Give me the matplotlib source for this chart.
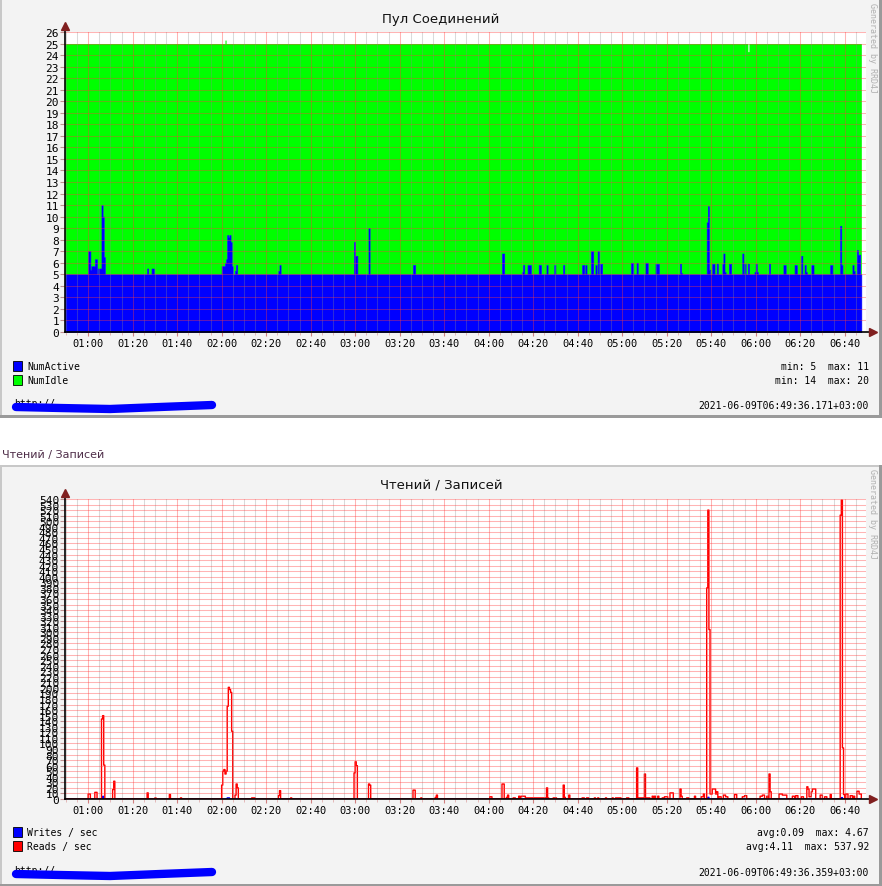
import numpy as np
import matplotlib
matplotlib.use('Agg')
import matplotlib.pyplot as plt
from matplotlib.patches import Rectangle
from matplotlib.lines import Line2D
from matplotlib.ticker import FixedLocator, MultipleLocator

W, H = 882, 887

# ---------------- data (time = minutes past midnight) ----------------
T_START, T_END, STEP = 49.5, 408.0, 0.5
X_MIN, X_MAX = 49.6, 409.6

tick_minutes = [60, 80, 100, 120, 140, 160, 180, 200, 220, 240, 260, 280,
                300, 320, 340, 360, 380, 400]
tick_labels = ['01:00', '01:20', '01:40', '02:00', '02:20', '02:40', '03:00',
               '03:20', '03:40', '04:00', '04:20', '04:40', '05:00', '05:20',
               '05:40', '06:00', '06:20', '06:40']

active_base = 5.0
pool_total = 25.0
# (start, end, NumActive)
active_segments = [
    (60.0, 61.0, 7.0), (61.0, 61.5, 5.4), (61.5, 63.0, 5.7), (63.0, 64.0, 6.3),
    (64.5, 66.0, 5.5), (66.0, 66.5, 11.0), (66.5, 67.0, 10.0), (67.0, 67.5, 6.5),
    (86.5, 87.0, 5.5), (88.5, 89.5, 5.5),
    (120.0, 121.5, 5.7), (121.5, 122.0, 6.0), (122.0, 122.5, 6.3), (122.5, 123.0, 8.4),
    (123.0, 123.5, 8.2), (123.5, 124.0, 8.4), (124.0, 124.5, 7.8), (124.5, 125.0, 5.7),
    (126.0, 126.5, 5.3), (126.5, 127.0, 5.8), (145.5, 146.0, 5.3), (146.0, 146.5, 5.8),
    (179.5, 180.0, 7.8), (180.0, 181.0, 6.6), (186.0, 186.5, 9.0), (206.0, 207.0, 5.8),
    (246.0, 247.0, 6.8), (255.0, 255.5, 5.2), (255.5, 256.0, 5.8), (257.5, 259.0, 5.8),
    (262.5, 263.5, 5.8), (266.0, 266.5, 5.8), (269.5, 270.0, 5.8), (273.5, 274.0, 5.8),
    (282.0, 283.0, 5.8), (283.5, 284.0, 5.8), (286.0, 287.0, 7.0), (288.0, 288.5, 5.8),
    (289.0, 289.5, 7.0), (290.0, 291.0, 5.9), (304.0, 305.0, 6.0), (306.5, 307.0, 6.0),
    (310.5, 311.0, 6.0), (311.0, 311.5, 6.0), (315.0, 316.0, 5.9), (316.0, 316.5, 5.9),
    (326.0, 326.5, 5.9), (326.5, 327.0, 5.1), (338.0, 338.5, 9.5), (338.5, 339.0, 10.9),
    (339.0, 339.5, 5.4), (340.5, 341.5, 5.9), (342.5, 343.0, 5.9), (345.0, 345.5, 5.9),
    (345.5, 346.0, 6.8), (346.0, 346.5, 5.2), (348.0, 349.0, 5.9), (354.0, 354.5, 6.8),
    (355.0, 355.5, 5.9), (356.5, 357.0, 5.9), (359.5, 360.0, 5.2), (360.0, 360.5, 5.9),
    (360.5, 361.0, 5.2), (366.0, 366.5, 5.9), (372.5, 373.5, 5.8), (377.5, 378.5, 5.8),
    (380.5, 381.0, 6.6), (382.0, 382.5, 5.8), (382.5, 383.0, 5.2), (385.0, 386.0, 5.8),
    (393.5, 394.5, 5.8), (398.0, 398.5, 9.2), (398.5, 399.0, 5.8), (403.5, 404.0, 5.8),
    (404.0, 404.5, 5.3), (405.5, 406.0, 7.1), (406.0, 407.0, 6.7),
]
# (start, end, NumActive + NumIdle) where it differs from pool_total
total_segments = [(121.5, 122.0, 25.3), (356.5, 357.0, 24.3)]

# (start, end, Reads / sec)
reads_segments = [
    (60.0, 61.0, 9), (63.0, 64.0, 12), (66.0, 66.5, 144), (66.5, 67.0, 150), (67.0, 67.5, 61),
    (71.0, 71.5, 17), (71.5, 72.0, 32), (86.5, 87.0, 11), (90.0, 90.5, 2), (96.5, 97.0, 8),
    (101.5, 102.0, 2), (120.0, 120.5, 25), (120.5, 121.0, 50), (121.0, 121.5, 53),
    (121.5, 122.0, 45), (122.0, 122.5, 50), (122.5, 123.0, 167), (123.0, 123.5, 201),
    (123.5, 124.0, 197), (124.0, 124.5, 192), (124.5, 125.0, 122), (126.0, 126.5, 7),
    (126.5, 127.0, 27), (127.0, 127.5, 20), (133.5, 135.0, 2), (145.5, 146.0, 6),
    (146.0, 146.5, 15), (151.0, 151.5, 2), (179.5, 180.0, 47), (180.0, 180.5, 67),
    (180.5, 181.0, 60), (186.0, 186.5, 27), (186.5, 187.0, 25), (206.0, 207.0, 16),
    (209.5, 210.0, 2), (216.0, 216.5, 3), (216.5, 217.0, 7), (240.5, 241.5, 4),
    (246.0, 247.0, 27), (248.0, 248.5, 3), (248.5, 249.0, 7), (251.0, 252.0, 2),
    (253.5, 254.0, 5), (254.5, 256.5, 5), (256.5, 266.0, 2), (266.0, 266.5, 20),
    (266.5, 267.0, 2), (269.0, 270.5, 2), (273.5, 274.0, 25), (274.0, 274.5, 3),
    (276.0, 276.5, 7), (282.0, 283.0, 2), (284.0, 285.0, 2), (287.5, 288.0, 2),
    (289.0, 289.5, 2), (292.5, 293.0, 2), (295.5, 296.0, 2), (297.0, 299.5, 2),
    (302.0, 303.0, 2), (306.5, 307.0, 56), (307.0, 310.0, 2), (310.0, 310.5, 45),
    (310.5, 312.5, 2), (313.5, 314.0, 5), (314.5, 315.0, 5), (316.0, 316.5, 5),
    (318.0, 319.0, 2), (319.0, 320.5, 4), (321.5, 323.0, 11), (326.0, 326.5, 18),
    (326.5, 327.0, 5), (329.0, 330.0, 2), (332.5, 333.0, 5), (335.5, 336.5, 4),
    (336.5, 337.0, 9), (338.0, 338.5, 380), (338.5, 339.0, 520), (339.0, 339.5, 305),
    (339.5, 340.5, 9), (340.5, 342.0, 18), (342.0, 342.5, 9), (342.5, 343.0, 13),
    (343.5, 344.5, 4), (345.5, 346.5, 7), (346.5, 347.5, 4), (350.5, 351.5, 8),
    (354.0, 355.0, 4), (355.0, 356.0, 6), (362.0, 363.0, 5), (363.0, 364.0, 7),
    (365.0, 365.5, 5), (366.0, 366.5, 45), (366.5, 367.0, 13), (370.5, 372.0, 9),
    (372.0, 374.0, 7), (376.5, 377.5, 5), (378.0, 379.0, 6), (380.5, 381.5, 4),
    (383.0, 383.5, 22), (383.5, 384.0, 18), (384.0, 385.0, 4), (385.0, 385.5, 13),
    (385.5, 387.0, 18), (389.0, 390.0, 7), (391.0, 392.0, 4), (393.5, 394.0, 8),
    (398.0, 398.5, 511), (398.5, 399.0, 537.92), (399.0, 399.5, 92), (399.5, 400.0, 8),
    (400.5, 401.5, 9), (402.5, 403.5, 6), (404.0, 404.5, 5), (405.5, 406.5, 14),
    (406.5, 407.5, 9),
]
# (start, end, Writes / sec)
writes_segments = [(66.5, 67.0, 4.67), (122.5, 123.5, 2.0), (338.5, 339.0, 3.0),
                   (398.5, 399.0, 2.5)]

top_title = 'Пул Соединений'
bot_title = 'Чтений / Записей'
top_legend = [('NumActive', '#0000ff', 'min: 5  max: 11'),
              ('NumIdle', '#00ff00', 'min: 14  max: 20')]
bot_legend = [('Writes / sec', '#0000ff', 'avg:0.09  max: 4.67'),
              ('Reads / sec', '#ff0000', 'avg:4.11  max: 537.92')]
top_stamp = '2021-06-09T06:49:36.171+03:00'
bot_stamp = '2021-06-09T06:49:36.359+03:00'


def build(segments, base):
    t = np.arange(T_START, T_END, STEP)
    v = np.full(t.size, float(base))
    for a, b, val in segments:
        v[(t >= a - 1e-6) & (t < b - 1e-6)] = val
    return t, v


t, active = build(active_segments, active_base)
_, total = build(total_segments, pool_total)
idle = total - active
_, reads = build(reads_segments, 0.0)
_, writes = build(writes_segments, 0.0)

# ---------------- style ----------------
BACK = '#f3f3f3'
SHADEA = '#c8c8c8'
SHADEB = '#9a9a9a'
ARROW = '#801f1f'
MONO = 'DejaVu Sans Mono'

fig = plt.figure(figsize=(W / 100, H / 100), dpi=100, facecolor='white')


def fx(x):
    return x / W


def fy(y):
    return 1 - y / H


def rect(x0, y0, x1, y1, color):
    fig.patches.append(Rectangle((fx(x0), fy(y1)), fx(x1) - fx(x0), fy(y0) - fy(y1),
                                 transform=fig.transFigure, facecolor=color,
                                 edgecolor='none', zorder=-5))


# panel backgrounds and borders
rect(0, 0, W, 419, BACK)
rect(0, 0, 2, 419, SHADEA)
rect(W - 3, 0, W, 419, SHADEB)
rect(0, 416, W, 419, SHADEB)
rect(0, 466, W, H, BACK)
rect(0, 466, W, 468, SHADEA)
rect(0, 466, 2, H, SHADEA)
rect(W - 3, 466, W, H, SHADEB)
rect(0, H - 2, W, H, SHADEB)

fig.text(fx(2), fy(455), bot_title, fontsize=8, color='#4e2d48',
         ha='left', va='center', family='DejaVu Sans')


def setup_axes(top_px, bottom_px, ymax, ystep):
    ax = fig.add_axes([fx(65), fy(bottom_px), fx(866) - fx(65), fy(top_px) - fy(bottom_px)])
    ax.set_facecolor('white')
    ax.set_xlim(X_MIN, X_MAX)
    ax.set_ylim(0, ymax)
    ax.xaxis.set_major_locator(FixedLocator(tick_minutes))
    ax.set_xticklabels(tick_labels)
    ax.xaxis.set_minor_locator(MultipleLocator(5))
    ax.yaxis.set_major_locator(MultipleLocator(ystep))
    ax.set_axisbelow(False)
    ax.grid(True, which='major', axis='both', color='#ff3a3a', alpha=0.38, lw=0.75)
    ax.grid(True, which='minor', axis='x', color='#8c8c8c', alpha=0.32, lw=0.75)
    for s in ax.spines.values():
        s.set_visible(False)
    ax.tick_params(axis='x', which='major', length=3, color='#d08080', pad=1.5,
                   labelsize=7.5)
    ax.tick_params(axis='x', which='minor', length=2, color='#e0b0b0')
    ax.tick_params(axis='y', which='major', length=3.5, color='#c09090', pad=0.8,
                   labelsize=8)
    for lab in ax.get_xticklabels() + ax.get_yticklabels():
        lab.set_family(MONO)
    # axes with arrows
    ax.plot([0, 0], [0, 1.017], transform=ax.transAxes, color='black', lw=1.2,
            clip_on=False, zorder=6)
    ax.plot([0, 1.006], [0, 0], transform=ax.transAxes, color='black', lw=1.2,
            clip_on=False, zorder=6)
    ax.plot([0], [1.02], marker='^', ms=6, color=ARROW, transform=ax.transAxes,
            clip_on=False, zorder=7)
    ax.plot([1.009], [0], marker='>', ms=6, color=ARROW, transform=ax.transAxes,
            clip_on=False, zorder=7)
    return ax


# ---------------- top chart ----------------
ax1 = setup_axes(33, 333, 26, 1)
ax1.fill_between(t, active, active + idle, step='post', color='#00ff00', lw=0, zorder=1)
ax1.fill_between(t, 0, active, step='post', facecolor='#0000ff', edgecolor='#0000ff',
                 lw=0.45, zorder=1.2)
fig.text(0.5, fy(19), top_title, ha='center', va='center', fontsize=9.5,
         family='DejaVu Sans', color='#111111')

# ---------------- bottom chart ----------------
ax2 = setup_axes(500, 800, 540, 10)
ax2.step(t, writes, where='post', color='#0000ff', lw=1.0, zorder=1.5)
ax2.step(t, reads, where='post', color='#ff0000', lw=1.0, zorder=1.6)
fig.text(0.5, fy(486), bot_title, ha='center', va='center', fontsize=9.5,
         family='DejaVu Sans', color='#111111')

# ---------------- legends / footers ----------------
for rows, y0, stamp, ys in ((top_legend, 367, top_stamp, 406),
                            (bot_legend, 833, bot_stamp, 873)):
    for i, (name, col, stats) in enumerate(rows):
        y = y0 + i * 14
        fig.patches.append(Rectangle((fx(13), fy(y + 5)), fx(9), fy(0) - fy(10),
                                     transform=fig.transFigure, facecolor=col,
                                     edgecolor='black', lw=0.6, zorder=3))
        fig.text(fx(27), fy(y), name, fontsize=7, family=MONO, ha='left',
                 va='center', color='black')
        fig.text(fx(869), fy(y), stats, fontsize=7, family=MONO, ha='right',
                 va='center', color='black')
    fig.text(fx(14), fy(ys - 2), 'http://', fontsize=7, family=MONO, ha='left',
             va='center', color='black', zorder=2)
    fig.add_artist(Line2D([fx(16), fx(60), fx(110), fx(160), fx(212)],
                          [fy(ys + 2), fy(ys + 3), fy(ys + 4), fy(ys + 2), fy(ys)],
                          transform=fig.transFigure, color='#0000ff', lw=6,
                          solid_capstyle='round', zorder=4))
    fig.text(fx(869), fy(ys), stamp, fontsize=7, family=MONO, ha='right',
             va='center', color='black')

for y in (3, 469):
    fig.text(fx(872), fy(y), 'Generated by RRD4J', rotation=-90, fontsize=6,
             family=MONO, ha='center', va='top', color='#b0b0b0')

fig.savefig('out.png', dpi=100, facecolor='white')
